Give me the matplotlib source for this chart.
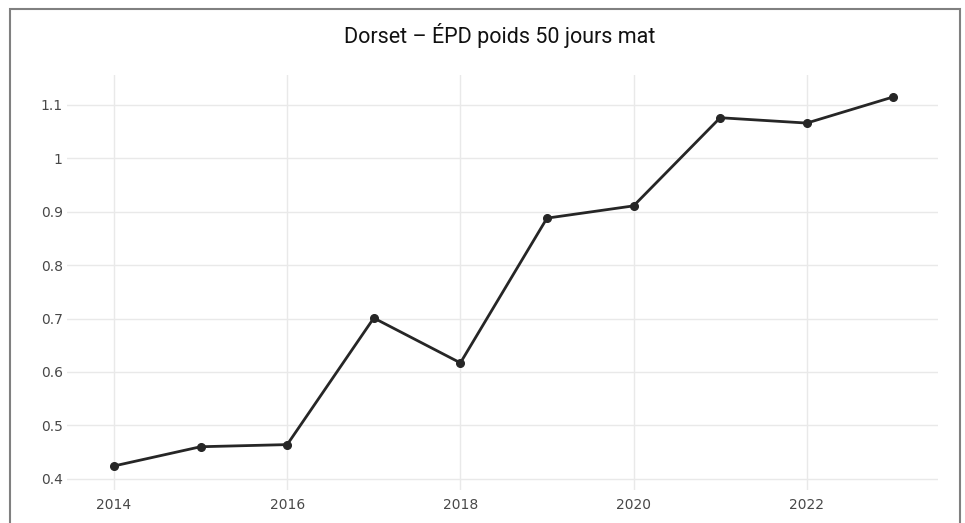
import matplotlib
matplotlib.use("Agg")
import matplotlib.pyplot as plt
from matplotlib.patches import Rectangle

plt.rcParams["font.family"] = ["DejaVu Sans"]

years = [2014, 2015, 2016, 2017, 2018, 2019, 2020, 2021, 2022, 2023]
epd = [0.424, 0.460, 0.464, 0.701, 0.617, 0.888, 0.911, 1.076, 1.066, 1.115]

xticks = [2014, 2016, 2018, 2020, 2022]
yticks = [0.4, 0.5, 0.6, 0.7, 0.8, 0.9, 1.0, 1.1]
ytick_labels = ["0.4", "0.5", "0.6", "0.7", "0.8", "0.9", "1", "1.1"]

fig = plt.figure(figsize=(9.65, 5.23), dpi=100)
ax = fig.add_axes([0.0694, 0.0631, 0.9026, 0.7935])

ax.plot(years, epd, color="#262626", linewidth=2, marker="o", markersize=5.5)

ax.set_xlim(2013.457, 2023.515)
ax.set_ylim(0.379, 1.156)
ax.set_xticks(xticks)
ax.set_yticks(yticks)
ax.set_yticklabels(ytick_labels)
ax.grid(True, color="#e9e9e9", linewidth=1)
ax.set_axisbelow(True)
for s in ax.spines.values():
    s.set_visible(False)
ax.tick_params(length=0, labelsize=10, labelcolor="#484848")
ax.tick_params(axis="y", pad=3)
ax.tick_params(axis="x", pad=6)

fig.text(0.518, 1 - 43 / 523, "Dorset – ÉPD poids 50 jours mat", ha="center",
         va="baseline", fontsize=15.5, family="Roboto", color="#111111")

# frame around the picture
fig.patches.append(Rectangle((10 / 965, -0.05), 950 / 965, 1 - 9 / 523 + 0.05,
                             transform=fig.transFigure, fill=False,
                             edgecolor="#808080", linewidth=1.5))

fig.savefig("out.png", dpi=100)
